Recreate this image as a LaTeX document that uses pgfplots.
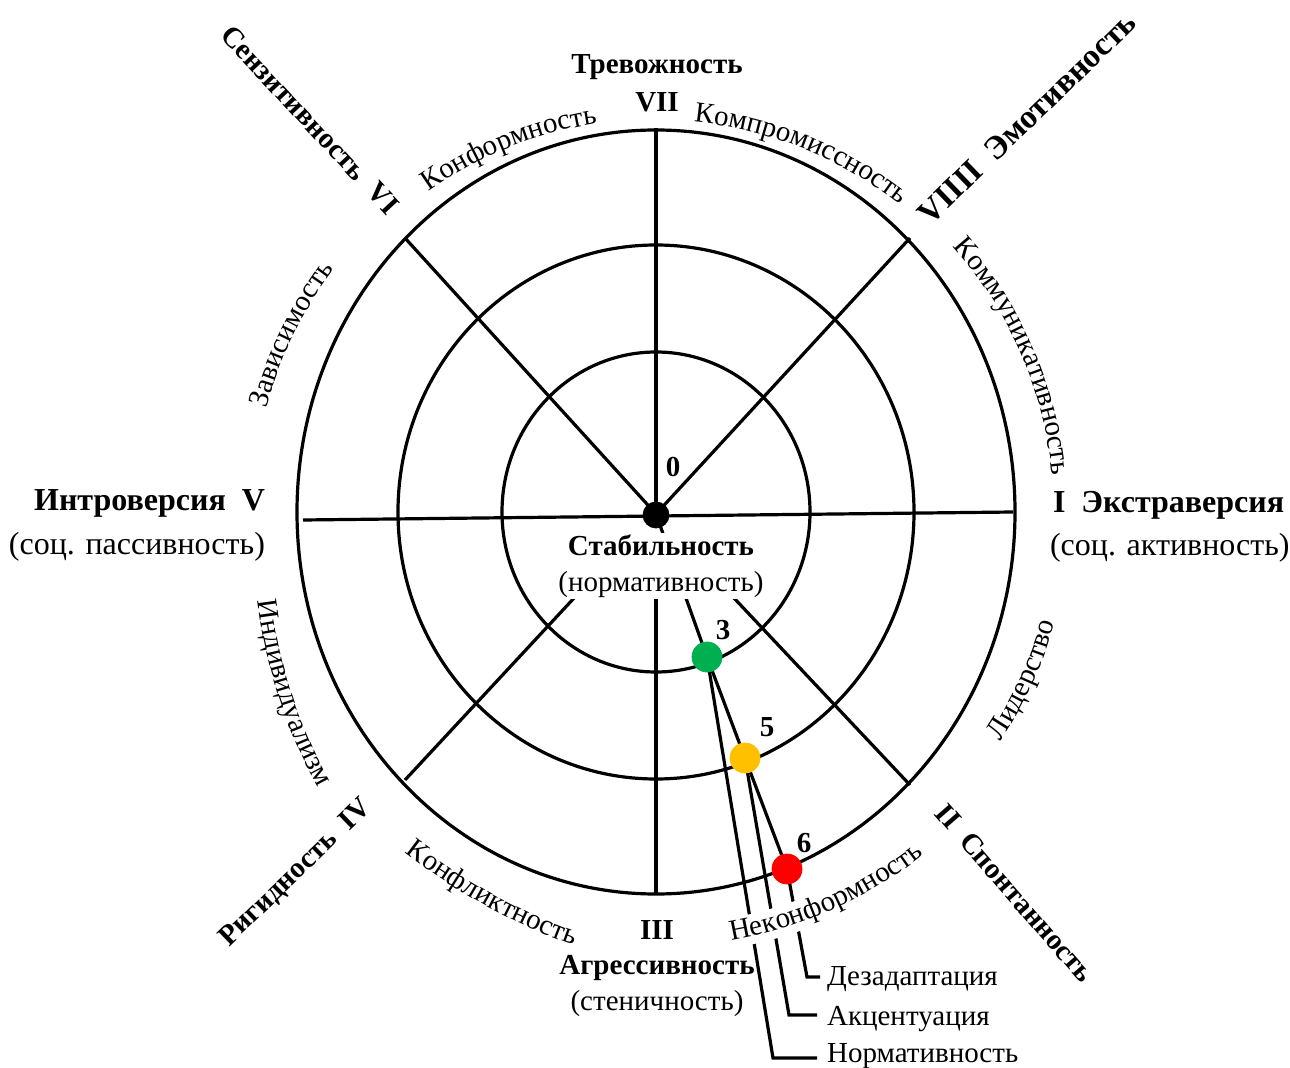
\documentclass[border=0pt]{standalone}
\usepackage{fontspec}
\setmainfont{Liberation Serif}
\usepackage{pgfplots}
\pgfplotsset{compat=1.18}
\usetikzlibrary{decorations.text,calc}
\newcommand\fs{\fontsize{14.5}{18}\selectfont}
\newcommand\fb{\fontsize{16}{19}\selectfont}
\definecolor{grn}{HTML}{00B050}
\definecolor{yel}{HTML}{FFC000}
\definecolor{rd}{HTML}{FF0000}
\begin{document}
\begin{tikzpicture}
\begin{axis}[width=645pt,height=533.5pt,scale only axis,xmin=0,xmax=1290,ymin=0,ymax=1067,hide axis,clip=false]
\coordinate (C) at (axis cs:656,555);
\coordinate (D1) at (axis cs:761.4,525.5);
\coordinate (D2) at (axis cs:777.2,693.6);
% rings
\draw[line width=1.6pt] (C) ellipse [x radius=179.5pt, y radius=191pt];
\draw[line width=1.6pt] (C) ellipse [x radius=129pt, y radius=133.5pt];
\draw[line width=1.6pt] (C) ellipse [x radius=77pt, y radius=80pt];
% radial lines
\addplot[black,line width=1.6pt] coordinates {(303,547) (1013,555)};
\addplot[black,line width=1.6pt] coordinates {(656,939) (656,553)};
\addplot[black,line width=1.6pt] coordinates {(656,553) (405,829)};
\addplot[black,line width=1.6pt] coordinates {(656,553) (910,829)};
\addplot[black,line width=1.6pt] coordinates {(656,470) (656,174)};
\addplot[black,line width=1.6pt] coordinates {(575,470) (405,287)};
\addplot[black,line width=1.6pt] coordinates {(733,470) (910,282)};
% profile
\addplot[black,line width=1.6pt] coordinates {(656,553) (707,410) (745,309) (787,198)};
% leaders
\addplot[black,line width=1.6pt] coordinates {(707,410) (773,9) (817,9)};
\addplot[black,line width=1.6pt] coordinates {(745,309) (789,52) (817,52)};
\addplot[black,line width=1.6pt] coordinates {(787,198) (807,90) (820,90)};
% white band behind curved text
\draw[white,line width=15pt] ($(C)+(-81:214pt)$) arc[start angle=-81,end angle=-52,radius=214pt];
% centre label
\node[fill=white,inner sep=1pt,align=center,font=\fs] at (axis cs:661,501) {\textbf{Стабильность}\\(нормативность)};
% points
\addplot[only marks,mark=*,mark size=6.5pt,black] coordinates {(656,552)};
\addplot[only marks,mark=*,mark size=7.5pt,grn] coordinates {(707,410)};
\addplot[only marks,mark=*,mark size=7.5pt,yel] coordinates {(745,309)};
\addplot[only marks,mark=*,mark size=7.5pt,rd] coordinates {(787,198)};
% numbers
\node[font=\fs\bfseries] at (axis cs:673,600) {0};
\node[font=\fs\bfseries] at (axis cs:723,437) {3};
\node[font=\fs\bfseries] at (axis cs:767,340) {5};
\node[font=\fs\bfseries] at (axis cs:804,224) {6};
% main labels
\node[font=\fs\bfseries] at (axis cs:657,1000) {Тревожность};
\node[font=\fs\bfseries] at (axis cs:657,965) {VII};
\node[font=\fb\bfseries,anchor=east] at (axis cs:272,564) {Интроверсия\ \ V};
\node[font=\fb,anchor=east] at (axis cs:272,520) {(соц. пассивность)};
\node[font=\fb\bfseries,anchor=west] at (axis cs:1046,562) {I\ \ Экстраверсия};
\node[font=\fb,anchor=west] at (axis cs:1043,519) {(соц. активность)};
\node[font=\fs\bfseries] at (axis cs:657,137) {III};
\node[font=\fs\bfseries] at (axis cs:657,99) {Агрессивность};
\node[font=\fs] at (axis cs:657,63) {(стеничность)};
\node[font=\fs\bfseries,rotate=-47] at (axis cs:310,947) {Сензитивность\ \ VI};
\node[font=\fontsize{16.5}{19}\selectfont\bfseries,rotate=44] at (axis cs:1027,949) {VIIII\ \ Эмотивность};
\node[font=\fs\bfseries,rotate=-49] at (axis cs:1015,174) {II\ \ Спонтанность};
\node[font=\fs\bfseries,rotate=44] at (axis cs:296,194) {Ригидность\ \ IV};
\node[font=\fs,anchor=west] at (axis cs:820,88) {Дезадаптация};
\node[font=\fs,anchor=west] at (axis cs:820,48) {Акцентуация};
\node[font=\fs,anchor=west] at (axis cs:820,11) {Нормативность};
% curved labels (upper: clockwise)
\path[decorate,decoration={text along path,text align=center,text={|\fs|Зависимость}}] ($(C)+(204:201.5pt)$) arc[start angle=204,end angle=104,radius=201.5pt];
\path[decorate,decoration={text along path,text align=center,text={|\fs|Конформность}}] ($(C)+(162:196.5pt)$) arc[start angle=162,end angle=62,radius=196.5pt];
\path[decorate,decoration={text along path,text align=center,text={|\fs|Компромиссность}}] ($(C)+(118:196pt)$) arc[start angle=118,end angle=18,radius=196pt];
\path[decorate,decoration={text along path,text align=center,text={|\fs|Коммуникативность}}] ($(C)+(73.5:199pt)$) arc[start angle=73.5,end angle=-26.5,radius=199pt];
% lower: counter-clockwise
\path[decorate,decoration={text along path,text align=center,text={|\fs|Лидерство}}] ($(C)+(-74.6:207pt)$) arc[start angle=-74.6,end angle=25.4,radius=207pt];
\path[decorate,decoration={text along path,text align=center,text={|\fs|Неконформность}}] ($(C)+(-116:217.5pt)$) arc[start angle=-116,end angle=-16,radius=217.5pt];
\path[decorate,decoration={text along path,text align=center,text={|\fs|Конфликтность}}] ($(D2)+(216.3:303.5pt)$) arc[start angle=216.3,end angle=266.3,radius=303.5pt];
\path[decorate,decoration={text along path,text align=center,text={|\fs|Индивидуализм}}] ($(D1)+(172.9:253.5pt)$) arc[start angle=172.9,end angle=222.9,radius=253.5pt];
\end{axis}
\pgfresetboundingbox
\path[use as bounding box] (0,0) rectangle (645pt,533.5pt);
\end{tikzpicture}
\end{document}
